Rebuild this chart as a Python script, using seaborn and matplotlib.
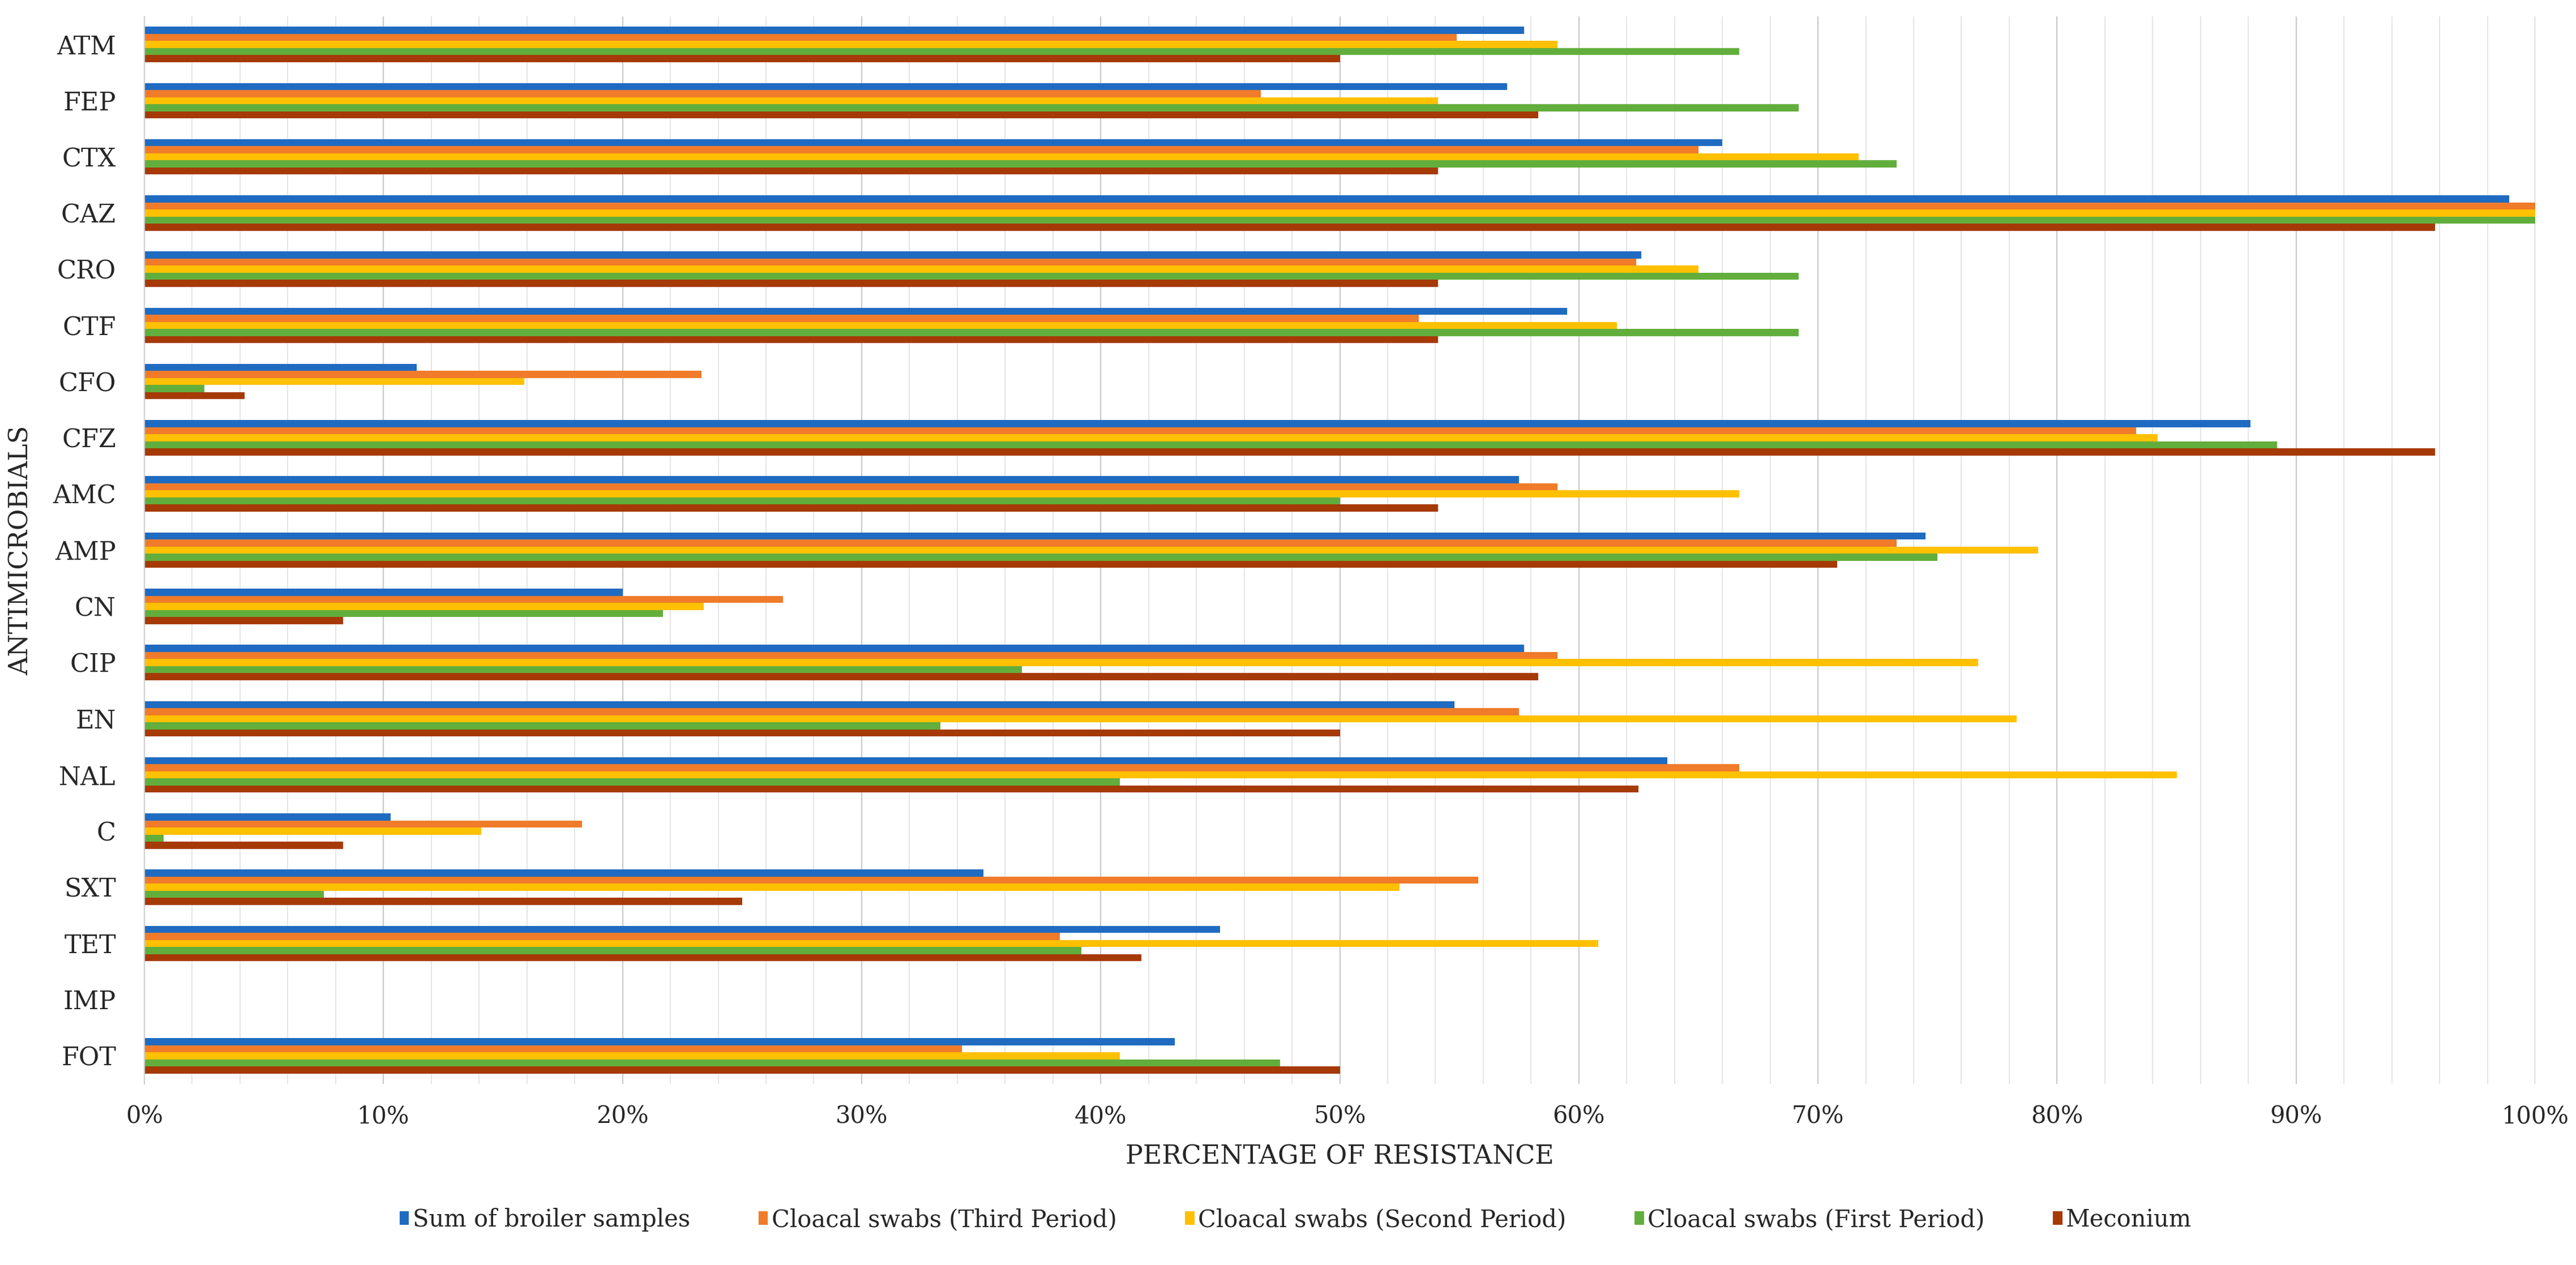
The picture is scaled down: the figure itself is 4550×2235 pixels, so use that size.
import numpy as np
import pandas as pd
import matplotlib
matplotlib.use("Agg")
import matplotlib.pyplot as plt
from matplotlib.ticker import MultipleLocator, FuncFormatter
import seaborn as sns

# ---------------- data ----------------
drugs = ["ATM", "FEP", "CTX", "CAZ", "CRO", "CTF", "CFO", "CFZ", "AMC", "AMP",
         "CN", "CIP", "EN", "NAL", "C", "SXT", "TET", "IMP", "FOT"]

series_names = ["Sum of broiler samples", "Cloacal swabs (Third Period)",
                "Cloacal swabs (Second Period)", "Cloacal swabs (First Period)",
                "Meconium"]

sum_broiler = [57.7, 57.0, 66.0, 98.9, 62.6, 59.5, 11.4, 88.1, 57.5, 74.5,
               20.0, 57.7, 54.8, 63.7, 10.3, 35.1, 45.0, 0.0, 43.1]
third_period = [54.9, 46.7, 65.0, 100.0, 62.4, 53.3, 23.3, 83.3, 59.1, 73.3,
                26.7, 59.1, 57.5, 66.7, 18.3, 55.8, 38.3, 0.0, 34.2]
second_period = [59.1, 54.1, 71.7, 100.0, 65.0, 61.6, 15.9, 84.2, 66.7, 79.2,
                 23.4, 76.7, 78.3, 85.0, 14.1, 52.5, 60.8, 0.0, 40.8]
first_period = [66.7, 69.2, 73.3, 100.0, 69.2, 69.2, 2.5, 89.2, 50.0, 75.0,
                21.7, 36.7, 33.3, 40.8, 0.8, 7.5, 39.2, 0.0, 47.5]
meconium = [50.0, 58.3, 54.1, 95.8, 54.1, 54.1, 4.2, 95.8, 54.1, 70.8,
            8.3, 58.3, 50.0, 62.5, 8.3, 25.0, 41.7, 0.0, 50.0]

colors = ["#1F6BC1", "#F07B2A", "#FFC000", "#62AE3C", "#A63A06"]

x_ticks = list(range(0, 101, 10))

# ---------------- frame ----------------
values = [sum_broiler, third_period, second_period, first_period, meconium]
rows = []
for name, vals in zip(series_names, values):
    for d, v in zip(drugs, vals):
        rows.append({"drug": d, "series": name, "value": v})
df = pd.DataFrame(rows)

sns.set_style("white")
plt.rcParams["font.family"] = ["DejaVu Serif", "DejaVu Sans"]

W, H, DPI = 4550, 2235, 100
fig = plt.figure(figsize=(W / DPI, H / DPI), dpi=DPI)
ax = fig.add_axes([255 / W, 1 - 1915 / H, (4478 - 255) / W, (1915 - 29) / H])

sns.barplot(data=df, x="value", y="drug", hue="series", order=drugs,
            hue_order=series_names, palette=colors, orient="h",
            width=0.63, saturation=1, errorbar=None, ax=ax, linewidth=0)

ax.set_xlim(0, 100)
ax.set_ylim(len(drugs) - 0.5, -0.5)
ax.set_xticks(x_ticks)
ax.xaxis.set_minor_locator(MultipleLocator(2))
ax.xaxis.set_major_formatter(FuncFormatter(lambda v, p: f"{v:.0f}%"))

ax.set_axisbelow(True)
ax.grid(axis="x", which="major", color="#c9c9c9", linewidth=1.6)
ax.grid(axis="x", which="minor", color="#e3e3e3", linewidth=1.3)
ax.grid(axis="y", visible=False)

for s in ["top", "right", "bottom"]:
    ax.spines[s].set_visible(False)
ax.spines["left"].set_color("#d0d0d0")
ax.spines["left"].set_linewidth(1.6)

ax.set_yticks(np.arange(-0.5, len(drugs), 1), minor=True)
ax.tick_params(axis="y", which="major", length=0, pad=36, labelsize=32)
ax.tick_params(axis="y", which="minor", length=8, color="#c8c8c8", width=1.5)
ax.tick_params(axis="x", which="both", length=0, pad=26, labelsize=30)

ax.set_xlabel("PERCENTAGE OF RESISTANCE", fontsize=33, labelpad=20)
ax.set_ylabel("ANTIMICROBIALS", fontsize=33, labelpad=24)

handles, labels = ax.get_legend_handles_labels()
ax.get_legend().remove()
fig.legend(handles, labels, loc="center", bbox_to_anchor=(0.503, 1 - 2155 / H),
           ncol=5, frameon=False, fontsize=30, handlelength=0.4,
           handleheight=0.5, handletextpad=0.15, columnspacing=2.9)

fig.savefig("out.png", dpi=DPI, facecolor="white")
